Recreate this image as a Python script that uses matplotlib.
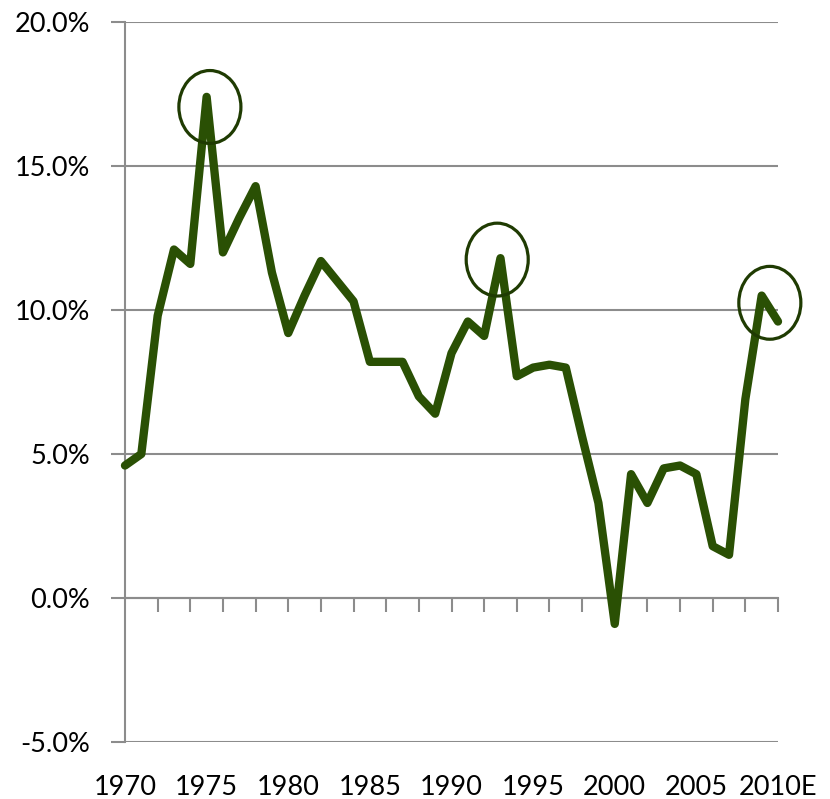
import matplotlib.pyplot as plt
from matplotlib.patches import Ellipse

# values (percent)
years = list(range(1970, 2011))
values = [4.6, 5.0, 9.8, 12.1, 11.6, 17.4, 12.0, 13.2, 14.3, 11.3,
          9.2, 10.5, 11.7, 11.0, 10.3, 8.2, 8.2, 8.2, 7.0, 6.4,
          8.5, 9.6, 9.1, 11.8, 7.7, 8.0, 8.1, 8.0, 5.6, 3.3,
          -0.9, 4.3, 3.3, 4.5, 4.6, 4.3, 1.8, 1.5, 6.9, 10.5, 9.6]
label_years = [1970, 1975, 1980, 1985, 1990, 1995, 2000, 2005, 2010]
label_text = ["1970", "1975", "1980", "1985", "1990", "1995", "2000", "2005", "2010E"]
y_ticks = [-5, 0, 5, 10, 15, 20]
# highlighted peaks: (centre year, centre value)
highlights = [(1975.2, 17.05), (1992.8, 11.75), (2009.5, 10.25)]

line_color = "#2a5004"
ring_color = "#1f3b02"
grid_color = "#8c8c8c"

plt.rcParams["font.family"] = ["Lato", "DejaVu Sans"]

fig = plt.figure(figsize=(8.3, 7.99), dpi=100)
ax = fig.add_axes([125 / 830, 57 / 799, (778 - 125) / 830, (742 - 22) / 799])

ax.plot(years, values, color=line_color, lw=6, solid_capstyle="round",
        solid_joinstyle="round", zorder=3, clip_on=False)

for cx, cy in highlights:
    ax.add_patch(Ellipse((cx, cy), 3.8, 2.53, fill=False, ec=ring_color,
                         lw=2.3, zorder=4, clip_on=False))

ax.set_xlim(1970, 2010)
ax.set_ylim(-5, 20)

# y axis
ax.set_yticks(y_ticks)
ax.set_yticklabels(["{:.1f}%".format(v) for v in y_ticks])
ax.yaxis.grid(True, color=grid_color, lw=1.5)
ax.set_axisbelow(True)
ax.tick_params(axis="y", length=10, width=1.5, color=grid_color,
               labelsize=19.5, pad=15)

# category axis sits on the zero line with small marks every two years
for s in ["top", "right"]:
    ax.spines[s].set_visible(False)
ax.spines["left"].set_color(grid_color)
ax.spines["left"].set_linewidth(1.5)
ax.spines["bottom"].set_position(("data", 0))
ax.spines["bottom"].set_color(grid_color)
ax.spines["bottom"].set_linewidth(1.5)
ax.set_xticks(range(1972, 2011, 2))
ax.tick_params(axis="x", length=10, width=1.5, color=grid_color,
               labelbottom=False)

# year labels along the bottom of the plot
sec = ax.secondary_xaxis("bottom")
sec.set_xticks(label_years)
sec.set_xticklabels(label_text)
sec.spines["bottom"].set_visible(False)
sec.tick_params(length=0, labelsize=19.5, pad=24)

fig.savefig("out.png", dpi=100)
